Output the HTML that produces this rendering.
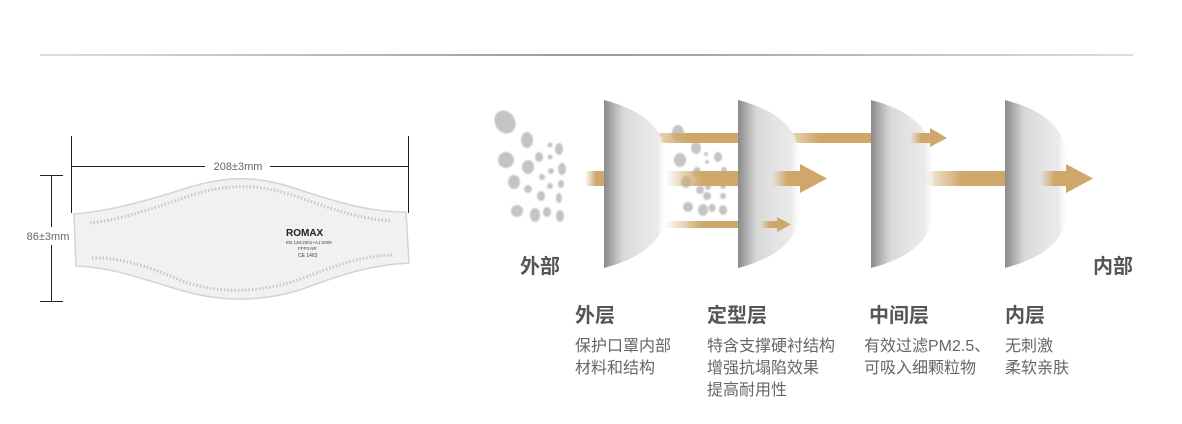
<!DOCTYPE html>
<html><head><meta charset="utf-8"><style>
html,body{margin:0;padding:0;background:#fff;}
body{width:1182px;height:424px;overflow:hidden;position:relative;font-family:"Liberation Sans","Noto Sans CJK SC",sans-serif;}
.t{position:absolute;color:#555;font-weight:bold;font-size:20px;white-space:nowrap;line-height:22px}
.d{position:absolute;color:#666;font-size:16px;line-height:22px;white-space:nowrap}
</style></head><body>
<svg width="1182" height="424" style="position:absolute;left:0;top:0">
<defs>
<linearGradient id="hl" x1="0" x2="1"><stop offset="0" stop-color="#ddd"/><stop offset="0.5" stop-color="#999"/><stop offset="1" stop-color="#ddd"/></linearGradient>
<linearGradient id="ly" x1="0" x2="1"><stop offset="0" stop-color="#8a8a8a"/><stop offset="0.3" stop-color="#d8d8d8"/><stop offset="0.6" stop-color="#e4e4e4"/><stop offset="0.85" stop-color="#eaeaea"/><stop offset="1" stop-color="#fff" stop-opacity="0.2"/></linearGradient>
<linearGradient id="ar" x1="0" x2="1"><stop offset="0" stop-color="#cfa76b" stop-opacity="0"/><stop offset="0.5" stop-color="#cfa76b"/><stop offset="1" stop-color="#cfa76b"/></linearGradient>
<filter id="bl"><feGaussianBlur stdDeviation="0.8"/></filter>
<path id="L" d="M0,0 C30,8 60,22 63,60 L63,110 C60,146 30,160 0,168 Z"/>
</defs>
<rect x="40" y="54" width="1093" height="2" fill="url(#hl)"/>
<g stroke="#222" stroke-width="1">
<line x1="71.5" y1="136" x2="71.5" y2="213"/><line x1="408.5" y1="136" x2="408.5" y2="213"/>
<line x1="72" y1="166.5" x2="205" y2="166.5"/><line x1="270" y1="166.5" x2="408" y2="166.5"/>
<line x1="51.5" y1="175" x2="51.5" y2="227"/><line x1="51.5" y1="245" x2="51.5" y2="302"/>
<line x1="40" y1="175.5" x2="63" y2="175.5"/><line x1="40" y1="301.5" x2="63" y2="301.5"/>
</g>
<text x="238" y="170" font-size="11" fill="#666" text-anchor="middle" font-family="Liberation Sans">208±3mm</text>
<text x="48" y="240" font-size="11" fill="#666" text-anchor="middle" font-family="Liberation Sans">86±3mm</text>
<path d="M74,214 C110,211 150,200 190,187 C230,175 260,176 300,190 C340,203 370,212 406,212 L409,263 C370,265 340,275 300,290 C260,302 220,302 180,290 C140,278 110,267 76,266 Z" fill="#f1f1f1" stroke="#d4d4d4" stroke-width="1.5"/>
<path d="M90,223 C120,220 155,208 192,195 C230,183 260,184 298,197 C335,210 360,219 392,221 M92,258 C120,257 150,267 182,281 C220,294 258,293 298,280 C335,266 360,256 392,255" fill="none" stroke="#c8c8c8" stroke-width="3" stroke-dasharray="1.5 2"/>
<text x="286" y="236" font-size="10" font-weight="bold" fill="#222" font-family="Liberation Sans">ROMAX</text>
<text x="286" y="244" font-size="4.5" fill="#444">EN 149:2001+A1:2009</text>
<text x="298" y="250" font-size="4.5" fill="#444">FFP3 NR</text>
<text x="298" y="257" font-size="5" fill="#444">CE 1463</text>
<g fill="#c4c4c4" filter="url(#bl)">
<ellipse cx="505" cy="122" rx="10" ry="12" transform="rotate(-30 505 122)"/><ellipse cx="527" cy="140" rx="6" ry="8"/><ellipse cx="506" cy="160" rx="8" ry="8"/>
<circle cx="550" cy="145" r="2.5"/><ellipse cx="559" cy="149" rx="4" ry="6"/><ellipse cx="539" cy="157" rx="4" ry="5"/><circle cx="550" cy="157" r="2.5"/>
<ellipse cx="528" cy="167" rx="6" ry="7"/><ellipse cx="562" cy="169" rx="4" ry="6"/><circle cx="551" cy="171" r="3"/><ellipse cx="514" cy="182" rx="6" ry="7"/>
<circle cx="542" cy="177" r="3"/><circle cx="550" cy="186" r="3"/><ellipse cx="561" cy="184" rx="3" ry="4"/><circle cx="528" cy="189" r="4"/><ellipse cx="541" cy="196" rx="4" ry="5"/><ellipse cx="559" cy="198" rx="3" ry="5"/>
<ellipse cx="517" cy="211" rx="6" ry="6"/><ellipse cx="535" cy="215" rx="5" ry="7"/><ellipse cx="547" cy="212" rx="4" ry="5"/><ellipse cx="560" cy="216" rx="4" ry="6"/>
<ellipse cx="678" cy="133" rx="6" ry="8"/><ellipse cx="696" cy="148" rx="5" ry="6"/><ellipse cx="680" cy="160" rx="6" ry="7"/><circle cx="706" cy="154" r="2"/><circle cx="707" cy="162" r="2"/><ellipse cx="718" cy="157" rx="4" ry="5"/>
<ellipse cx="697" cy="172" rx="4" ry="5"/><circle cx="724" cy="170" r="3"/><ellipse cx="686" cy="182" rx="5" ry="6"/><circle cx="700" cy="190" r="4"/><circle cx="708" cy="187" r="3"/><circle cx="723" cy="186" r="3"/>
<circle cx="707" cy="196" r="4"/><circle cx="723" cy="196" r="3"/><ellipse cx="688" cy="207" rx="5" ry="5"/><ellipse cx="703" cy="210" rx="5" ry="6"/><ellipse cx="712" cy="208" rx="3.5" ry="4"/><ellipse cx="723" cy="210" rx="4" ry="5"/>
</g>
<rect x="585" y="171" width="22" height="15" fill="url(#ar)"/>
<rect x="633" y="133" width="106" height="10" fill="url(#ar)"/>
<rect x="665" y="171" width="74" height="15" fill="url(#ar)"/>
<rect x="665" y="221" width="74" height="7" fill="url(#ar)"/>
<rect x="765" y="133" width="108" height="10" fill="url(#ar)"/>
<rect x="917" y="171" width="90" height="15" fill="url(#ar)"/>
<use href="#L" x="604" y="100" fill="url(#ly)"/>
<use href="#L" x="738" y="100" fill="url(#ly)"/>
<use href="#L" x="871" y="100" fill="url(#ly)"/>
<use href="#L" x="1005" y="100" fill="url(#ly)"/>
<rect x="772" y="171" width="30" height="15" fill="url(#ar)"/><polygon points="800,164 827,178.5 800,193" fill="#cfa76b"/>
<rect x="760" y="221" width="20" height="7" fill="url(#ar)"/><polygon points="777,217 791,224.5 777,232" fill="#cfa76b"/>
<rect x="910" y="133" width="22" height="10" fill="url(#ar)"/><polygon points="930,128 947,138 930,147" fill="#cfa76b"/>
<rect x="1040" y="171" width="28" height="15" fill="url(#ar)"/><polygon points="1066,164 1093,178.5 1066,193" fill="#cfa76b"/>
</svg>
<div class="t" style="left:520px;top:256px">外部</div>
<div class="t" style="left:1093px;top:256px">内部</div>
<div class="t" style="left:575px;top:305px">外层</div>
<div class="t" style="left:707px;top:305px">定型层</div>
<div class="t" style="left:869px;top:305px">中间层</div>
<div class="t" style="left:1005px;top:305px">内层</div>
<div class="d" style="left:575px;top:336px">保护口罩内部<br>材料和结构</div>
<div class="d" style="left:707px;top:336px">特含支撑硬衬结构<br>增强抗塌陷效果<br>提高耐用性</div>
<div class="d" style="left:864px;top:336px">有效过滤PM2.5、<br>可吸入细颗粒物</div>
<div class="d" style="left:1005px;top:336px">无刺激<br>柔软亲肤</div>
</body></html>
